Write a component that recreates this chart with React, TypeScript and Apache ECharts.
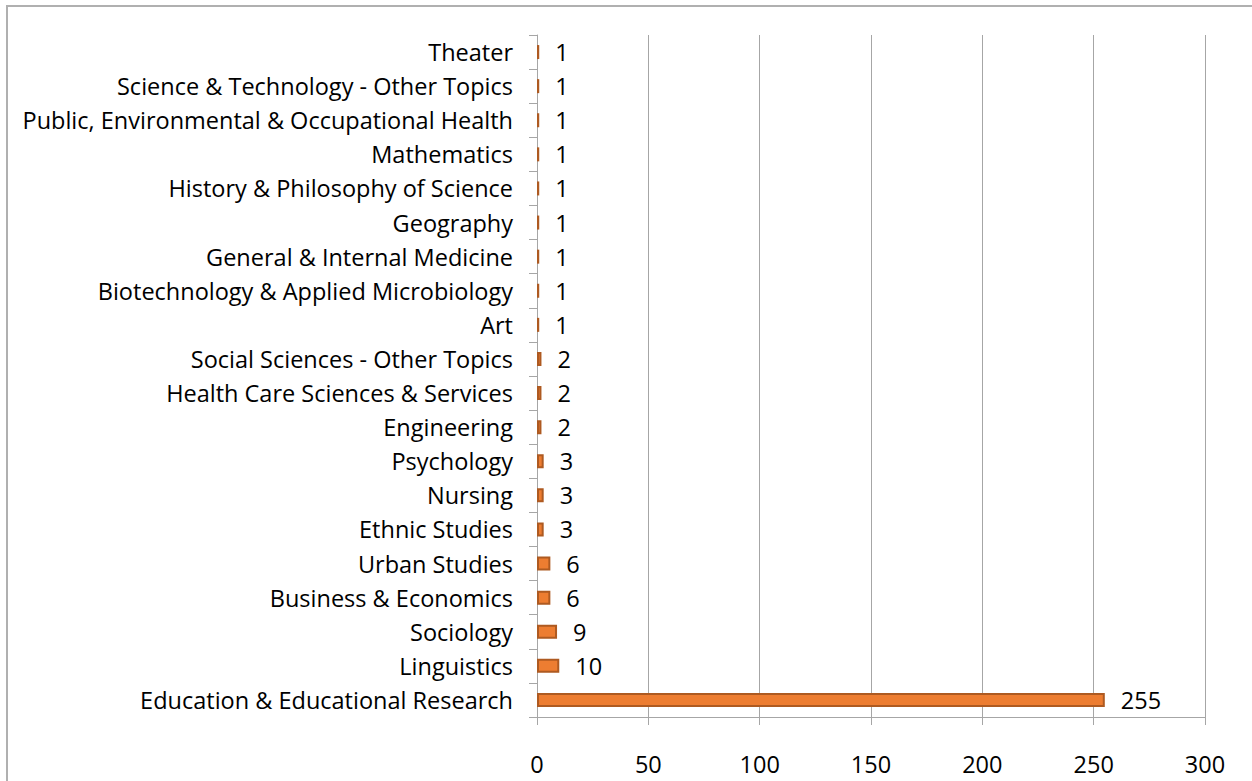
import React, { useEffect, useRef } from "react";
import * as echarts from "echarts";

const categories = [
  "Education & Educational Research",
  "Linguistics",
  "Sociology",
  "Business & Economics",
  "Urban Studies",
  "Ethnic Studies",
  "Nursing",
  "Psychology",
  "Engineering",
  "Health Care Sciences & Services",
  "Social Sciences - Other Topics",
  "Art",
  "Biotechnology & Applied Microbiology",
  "General & Internal Medicine",
  "Geography",
  "History & Philosophy of Science",
  "Mathematics",
  "Public, Environmental & Occupational Health",
  "Science & Technology - Other Topics",
  "Theater",
];
const values = [255, 10, 9, 6, 6, 3, 3, 3, 2, 2, 2, 1, 1, 1, 1, 1, 1, 1, 1, 1];

const FONT = "'Open Sans', Lato, sans-serif";
const FS = 23.5;

export default function App() {
  const ref = useRef<HTMLDivElement>(null);
  useEffect(() => {
    if (!ref.current) return;
    const chart = echarts.init(ref.current, undefined, { renderer: "svg" });
    chart.setOption({
      animation: false,
      backgroundColor: "#ffffff",
      textStyle: { fontFamily: FONT },
      graphic: [
        {
          type: "rect",
          shape: { x: 7, y: 6, width: 1400, height: 900 },
          style: { fill: "none", stroke: "#b0b0b0", lineWidth: 2 },
          silent: true,
        },
      ],
      grid: { left: 537, right: 47, top: 35, bottom: 64 },
      xAxis: {
        type: "value",
        min: 0,
        max: 300,
        interval: 50,
        axisLine: { show: true, lineStyle: { color: "#a6a6a6", width: 1 } },
        axisTick: { show: true, length: 8, lineStyle: { color: "#a6a6a6" } },
        splitLine: { show: true, lineStyle: { color: "#a6a6a6", width: 1 } },
        axisLabel: { color: "#000", fontSize: FS, fontFamily: FONT, margin: 35 },
      },
      yAxis: {
        type: "category",
        data: categories,
        axisLine: { show: true, lineStyle: { color: "#a6a6a6", width: 1 } },
        axisTick: { show: true, length: 8, alignWithLabel: false, lineStyle: { color: "#a6a6a6" } },
        axisLabel: { color: "#000", fontSize: FS, fontFamily: FONT, margin: 24 },
        splitLine: { show: false },
      },
      series: [
        {
          type: "bar",
          data: values,
          barWidth: 14,
          itemStyle: { color: "#ed7d31", borderColor: "#ae5a21", borderWidth: 2 },
          label: {
            show: true,
            position: "right",
            distance: 16,
            color: "#000",
            fontSize: FS,
            fontFamily: FONT,
          },
        },
      ],
    });
    return () => chart.dispose();
  }, []);
  return (
    <div
      ref={ref}
      style={{ position: "absolute", left: 0, top: 0, width: 1252, height: 781 }}
    />
  );
}
